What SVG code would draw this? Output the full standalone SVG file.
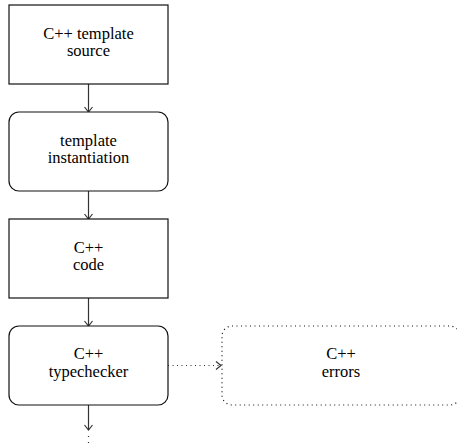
<svg xmlns="http://www.w3.org/2000/svg" width="457" height="447" viewBox="0 0 457 447">
<style>
.box{fill:#fff;stroke:#111;stroke-width:1.2}
.dbox{fill:#fff;stroke:#111;stroke-width:1.2;stroke-dasharray:1 3.5}
.t{font-family:"Liberation Serif","Times New Roman",serif;font-size:16.5px;fill:#000;text-anchor:middle}
.c{fill:none;stroke:#333;stroke-width:1.2}
.d{fill:none;stroke:#333;stroke-width:1.2;stroke-dasharray:1 3.5}
</style>
<defs>
<marker id="ah" markerWidth="10" markerHeight="10" refX="8" refY="5" orient="auto" markerUnits="userSpaceOnUse">
<path d="M3,1 L8,5 L3,9" fill="none" stroke="#333" stroke-width="1.2"/>
</marker>
</defs>
<g id="connectors">
<line class="c" x1="88.5" y1="84" x2="88.5" y2="112" marker-end="url(#ah)"/>
<line class="c" x1="88.5" y1="191" x2="88.5" y2="219" marker-end="url(#ah)"/>
<line class="c" x1="88.5" y1="298" x2="88.5" y2="326" marker-end="url(#ah)"/>
<line class="c" x1="88.5" y1="405" x2="88.5" y2="430" marker-end="url(#ah)"/>
<line class="d" x1="88.5" y1="436" x2="88.5" y2="447" style="stroke-dasharray:1 5"/>
<line class="d" x1="168" y1="365.5" x2="221" y2="365.5" marker-end="url(#ah)"/>
</g>
<g id="n1">
<rect class="box" x="9" y="5" width="159" height="79"/>
<text class="t" x="88.5" y="38.5">C++ template</text>
<text class="t" x="88.5" y="56">source</text>
</g>
<g id="n2">
<rect class="box" x="9" y="112" width="159" height="79" rx="10"/>
<text class="t" x="88.5" y="145.5">template</text>
<text class="t" x="88.5" y="163">instantiation</text>
</g>
<g id="n3">
<rect class="box" x="9" y="219" width="159" height="79"/>
<text class="t" x="88.5" y="252.5">C++</text>
<text class="t" x="88.5" y="270">code</text>
</g>
<g id="n4">
<rect class="box" x="9" y="326" width="159" height="79" rx="10"/>
<text class="t" x="88.5" y="359">C++</text>
<text class="t" x="88.5" y="376.5">typechecker</text>
</g>
<g id="n5">
<rect class="dbox" x="222" y="326" width="238" height="79" rx="10"/>
<text class="t" x="341" y="359">C++</text>
<text class="t" x="341" y="376.5">errors</text>
</g>
</svg>
